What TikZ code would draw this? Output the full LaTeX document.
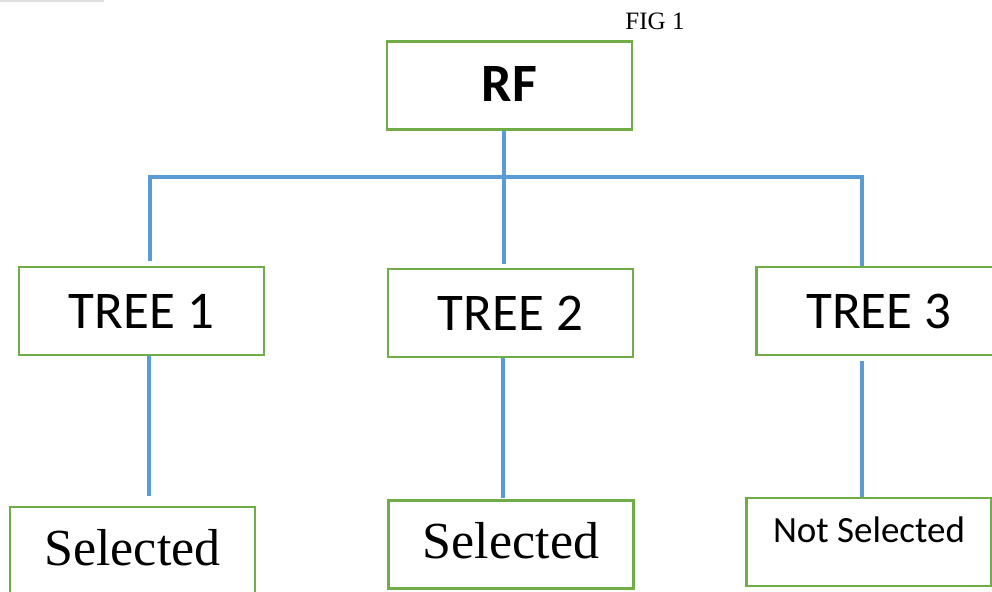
\documentclass[tikz,border=0pt]{standalone}
\usepackage{fontspec}
\setmainfont{Liberation Serif}
\newfontfamily\calibri{Carlito}
\usetikzlibrary{positioning}
\definecolor{boxgreen}{RGB}{112,173,71}
\definecolor{linkblue}{RGB}{91,155,213}

\begin{document}
\begin{tikzpicture}[
    x=0.5pt,y=-0.5pt,
    treebox/.style={rectangle,draw=boxgreen,line width=1.2pt,inner sep=0pt,minimum width=122.5pt,minimum height=44pt,align=center},
    treefont/.style={font=\calibri\fontsize{26.5}{32}\selectfont},
    conn/.style={draw=linkblue,line width=2pt}
]
\useasboundingbox (0,0) rectangle (992,592);
\draw[black!12,line width=1pt] (0,1) -- (104,1);

\node[anchor=base,font=\fontsize{12.5}{15}\selectfont] (fig) at (655,30) {FIG 1};

\node[treebox,font=\calibri\bfseries\fontsize{27}{32}\selectfont,text depth=2pt] (rf) at (509.5,85.5) {RF};

\node[treebox,treefont] (tree1) at (141.5,311) {TREE 1};
\node[treebox,treefont] (tree2) at (510.5,313) {TREE 2};
\node[treebox,treefont] (tree3) at (879,311) {TREE 3};

\node[treebox,font=\fontsize{26}{31}\selectfont,text depth=3.5pt] (sel1) at (132.5,551) {Selected};
\node[treebox,font=\fontsize{26}{31}\selectfont,text depth=4pt] (sel2) at (511,544.5) {Selected};
\node[treebox,font=\calibri\fontsize{18.5}{22}\selectfont,text depth=12pt] (nsel3) at (869,542) {Not Selected};

\coordinate (j1) at (150,177);
\coordinate (j2) at (504,177);
\coordinate (j3) at (862,177);
\coordinate (c1) at (149,0);
\coordinate (c2) at (503,0);
\coordinate (c3) at (862,0);

\draw[conn] (rf.south -| j2) -- ([yshift=2pt]tree2.north -| j2);
\draw[conn] ([yshift=2.5pt]tree1.north -| j1) |- (j3) -- (tree3.north -| j3);
\draw[conn] (tree1.south -| c1) -- ([yshift=5pt]sel1.north -| c1);
\draw[conn] (tree2.south -| c2) -- ([yshift=0.5pt]sel2.north -| c2);
\draw[conn] ([yshift=-2.5pt]tree3.south -| c3) -- (nsel3.north -| c3);

\end{tikzpicture}
\end{document}
